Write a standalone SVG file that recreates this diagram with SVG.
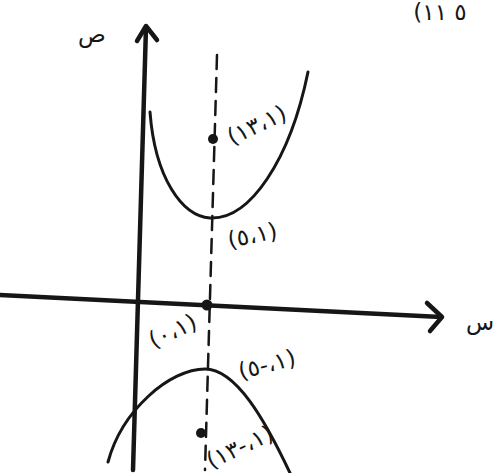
<svg xmlns="http://www.w3.org/2000/svg" width="498" height="473" viewBox="0 0 498 473">
<style>
.ink{fill:none;stroke:#161616;stroke-linecap:round;stroke-linejoin:round}
.ax{stroke-width:4.5}
.crv{stroke-width:3}
.dash{stroke-width:2.5;stroke-dasharray:14 9}
.lbl{font-family:"DejaVu Sans",sans-serif;font-size:23px;fill:#161616;direction:ltr;unicode-bidi:bidi-override}
.dot{fill:#161616}
</style>
<rect width="498" height="473" fill="#ffffff"/>
<g id="connectors">
  <path id="x-axis" class="ink ax" d="M0,295 L441,317"/>
  <path class="ink ax" d="M427,303 L442,317 L430,331"/>
  <path id="y-axis" class="ink ax" d="M133,470 L146,27"/>
  <path class="ink ax" d="M137,41 L146,26 L157,40"/>
  <path id="axis-line" class="ink dash" d="M217,55 L205,470"/>
</g>
<g id="upper-branch">
  <path class="ink crv" d="M150,112 C155,178 182,216 210,218 C250,220 290,160 308,72"/>
</g>
<g id="lower-branch">
  <path class="ink crv" d="M108,462 C122,410 170,369 205,369 C236,369 265,420 290,473"/>
</g>
<g id="focus-top">
  <circle class="dot" cx="213" cy="139" r="5"/>
  <text class="lbl" transform="translate(260,132) rotate(-25)" text-anchor="middle">(١٣،١)</text>
</g>
<g id="vertex-top">
  <text class="lbl" transform="translate(254,243) rotate(-12)" text-anchor="middle">(٥،١)</text>
</g>
<g id="center">
  <circle class="dot" cx="207" cy="305" r="5.5"/>
  <text class="lbl" transform="translate(176,338) rotate(-25)" text-anchor="middle">(٠،١)</text>
</g>
<g id="vertex-bottom">
  <text class="lbl" transform="translate(269,372) rotate(-15)" text-anchor="middle">(٥-،١)</text>
</g>
<g id="focus-bottom">
  <circle class="dot" cx="201" cy="433" r="5"/>
  <text class="lbl" transform="translate(243,454) rotate(-25)" text-anchor="middle">(١٣-،١)</text>
</g>
<g id="labels">
  <text class="lbl" x="92" y="42" font-size="34" text-anchor="middle">ص</text>
  <text class="lbl" x="480" y="330" font-size="32" text-anchor="middle">س</text>
  <text class="lbl" x="440" y="20" font-size="20" text-anchor="middle">(١١ ٥</text>
</g>
</svg>
